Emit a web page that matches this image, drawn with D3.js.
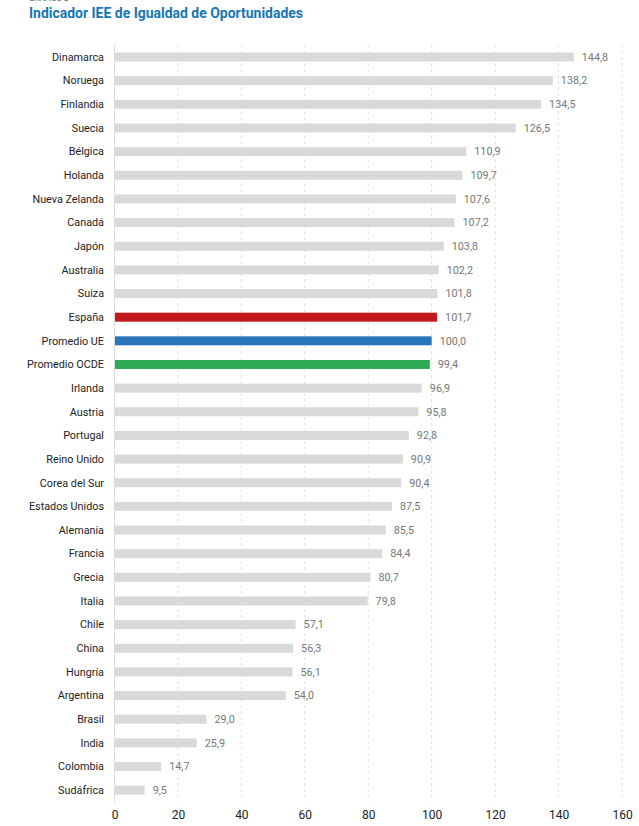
<!DOCTYPE html>
<html>
<head>
<meta charset="utf-8">
<script src="https://cdn.jsdelivr.net/npm/d3@7"></script>
<style>
  body { margin: 0; background: #fff; }
  text { font-family: Roboto, "Noto Sans", sans-serif; }
</style>
</head>
<body>
<div id="chart"></div>
<script>
// Data
const countries = ["Dinamarca", "Noruega", "Finlandia", "Suecia", "Bélgica", "Holanda",
    "Nueva Zelanda", "Canadá", "Japón", "Australia", "Suiza", "España", "Promedio UE",
    "Promedio OCDE", "Irlanda", "Austria", "Portugal", "Reino Unido", "Corea del Sur",
    "Estados Unidos", "Alemania", "Francia", "Grecia", "Italia", "Chile", "China",
    "Hungría", "Argentina", "Brasil", "India", "Colombia", "Sudáfrica"];
const values = [144.8, 138.2, 134.5, 126.5, 110.9, 109.7, 107.6, 107.2, 103.8, 102.2,
    101.8, 101.7, 100.0, 99.4, 96.9, 95.8, 92.8, 90.9, 90.4, 87.5, 85.5, 84.4, 80.7,
    79.8, 57.1, 56.3, 56.1, 54.0, 29.0, 25.9, 14.7, 9.5];
const highlight = { "España": "#c3191c", "Promedio UE": "#2a74b8", "Promedio OCDE": "#2eab55" };
const xTicks = [0, 20, 40, 60, 80, 100, 120, 140, 160];

const width = 639, height = 826;
const margin = { top: 45, left: 114.5, right: 17, bottom: 24 };

const svg = d3.select("#chart").append("svg")
    .attr("width", width)
    .attr("height", height);

// Title (the small caption above it is cut off in the original)
svg.append("text")
    .attr("x", 29).attr("y", 1)
    .attr("font-size", 8).attr("fill", "#555")
    .text("GRÁFICO 3");
svg.append("text")
    .attr("x", 29).attr("y", 18)
    .attr("font-size", 14.5).attr("font-weight", "bold")
    .attr("fill", "#1677b3")
    .attr("textLength", 274)
    .attr("lengthAdjust", "spacingAndGlyphs")
    .text("Indicador IEE de Igualdad de Oportunidades");

const x = d3.scaleLinear().domain([0, 160]).range([margin.left, width - margin.right]);

const y = d3.scaleBand()
    .domain(countries)
    .range([45.2, 802])
    .paddingInner(0.62)
    .paddingOuter(0.31);

// gridlines
svg.append("g")
    .selectAll("line")
    .data(xTicks.filter(d => d > 0))
    .enter()
    .append("line")
    .attr("x1", d => x(d)).attr("x2", d => x(d))
    .attr("y1", 45).attr("y2", 802)
    .attr("stroke", "#e2e2e2")
    .attr("stroke-dasharray", "3,3");

// bars
svg.append("g")
    .selectAll("rect")
    .data(countries)
    .enter()
    .append("rect")
    .attr("x", x(0))
    .attr("y", d => y(d))
    .attr("height", y.bandwidth())
    .attr("width", (d, i) => x(values[i]) - x(0))
    .attr("fill", d => highlight[d] || "#d9d9d9");

// baseline
svg.append("line")
    .attr("x1", x(0)).attr("x2", x(0))
    .attr("y1", 45).attr("y2", 802)
    .attr("stroke", "#dcdcdc");

// value labels
const fmt = v => v.toFixed(1).replace(".", ",");
svg.append("g")
    .selectAll("text")
    .data(countries)
    .enter()
    .append("text")
    .attr("x", (d, i) => x(values[i]) + 8)
    .attr("y", d => y(d) + y.bandwidth() / 2)
    .attr("dy", "0.35em")
    .attr("font-size", 10.8)
    .attr("fill", "#777")
    .text((d, i) => fmt(values[i]));

// category labels
svg.append("g")
    .selectAll("text")
    .data(countries)
    .enter()
    .append("text")
    .attr("x", 104)
    .attr("y", d => y(d) + y.bandwidth() / 2)
    .attr("dy", "0.35em")
    .attr("text-anchor", "end")
    .attr("font-size", 10.8)
    .attr("fill", "#222")
    .text(d => d);

// x axis
const xAxis = d3.axisBottom(x).tickValues(xTicks).tickSize(0).tickPadding(0);
const gx = svg.append("g")
    .attr("transform", "translate(0,810)")
    .call(xAxis);
gx.select(".domain").remove();
gx.selectAll("text")
    .attr("font-size", 12)
    .attr("fill", "#222")
    .attr("font-family", "Roboto, \"Noto Sans\", sans-serif");
</script>
</body>
</html>
